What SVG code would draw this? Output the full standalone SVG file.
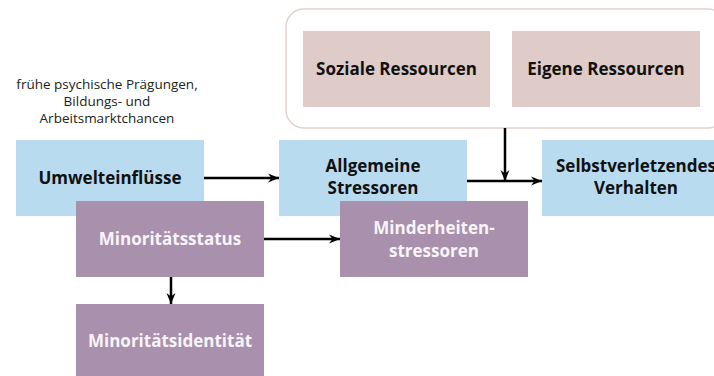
<svg xmlns="http://www.w3.org/2000/svg" width="714" height="376" viewBox="0 0 714 376">
<defs>
<marker id="ah" viewBox="0 0 12 10" refX="11" refY="5" markerWidth="12" markerHeight="10" markerUnits="userSpaceOnUse" orient="auto">
<path d="M0,0.5 L11,5 L0,9.5 L3.5,5 Z" fill="#000"/>
</marker>
<style>
.blue{fill:#b9dbef}
.purple{fill:#a991ad}
.pink{fill:#dfccc8}
.t{font-family:"Open Sans","Noto Sans","Liberation Sans",sans-serif;font-weight:bold;font-size:17px;text-anchor:middle}
.dk{fill:#111}
.wh{fill:#f8f4f8}
.note{font-family:"Open Sans","Noto Sans","Liberation Sans",sans-serif;font-size:13.5px;text-anchor:middle;fill:#222}
.c{stroke:#000;stroke-width:2.5;fill:none;marker-end:url(#ah)}
</style>
</defs>
<rect width="714" height="376" fill="#fff"/>
<g id="resources-container">
<rect x="286" y="9" width="440" height="119" rx="18" fill="#fff" stroke="#e3d1cd" stroke-width="1.5"/>
</g>
<g id="soziale">
<rect class="pink" x="303" y="31" width="187" height="76"/>
<text class="t dk" x="396.5" y="75">Soziale Ressourcen</text>
</g>
<g id="eigene">
<rect class="pink" x="512" y="31" width="188" height="76"/>
<text class="t dk" x="606" y="75">Eigene Ressourcen</text>
</g>
<g id="note">
<text class="note" x="107" y="89">frühe psychische Prägungen,</text>
<text class="note" x="107" y="106">Bildungs- und</text>
<text class="note" x="107" y="123">Arbeitsmarktchancen</text>
</g>
<g id="umwelt">
<rect class="blue" x="16" y="140" width="188" height="76"/>
<text class="t dk" x="110" y="184">Umwelteinflüsse</text>
</g>
<g id="allgemeine">
<rect class="blue" x="279" y="140" width="188" height="76"/>
<text class="t dk" x="373" y="172">Allgemeine</text>
<text class="t dk" x="373" y="194">Stressoren</text>
</g>
<g id="selbst">
<rect class="blue" x="542" y="140" width="188" height="76"/>
<text class="t dk" x="636" y="172">Selbstverletzendes</text>
<text class="t dk" x="636" y="194">Verhalten</text>
</g>
<g id="minoritaetsstatus">
<rect class="purple" x="76" y="201" width="188" height="76"/>
<text class="t wh" x="170" y="245">Minoritätsstatus</text>
</g>
<g id="minderheiten">
<rect class="purple" x="340" y="201" width="188" height="76"/>
<text class="t wh" x="434" y="234">Minderheiten-</text>
<text class="t wh" x="434" y="257">stressoren</text>
</g>
<g id="identitaet">
<rect class="purple" x="76" y="304" width="188" height="76"/>
<text class="t wh" x="170" y="347">Minoritätsidentität</text>
</g>
<g id="connectors">
<line class="c" x1="204" y1="178" x2="279" y2="178"/>
<line class="c" x1="264" y1="239" x2="340" y2="239"/>
<line class="c" x1="467" y1="181" x2="542" y2="181"/>
<line class="c" x1="505" y1="128" x2="505" y2="181"/>
<line class="c" x1="171" y1="277" x2="171" y2="304"/>
</g>
</svg>
